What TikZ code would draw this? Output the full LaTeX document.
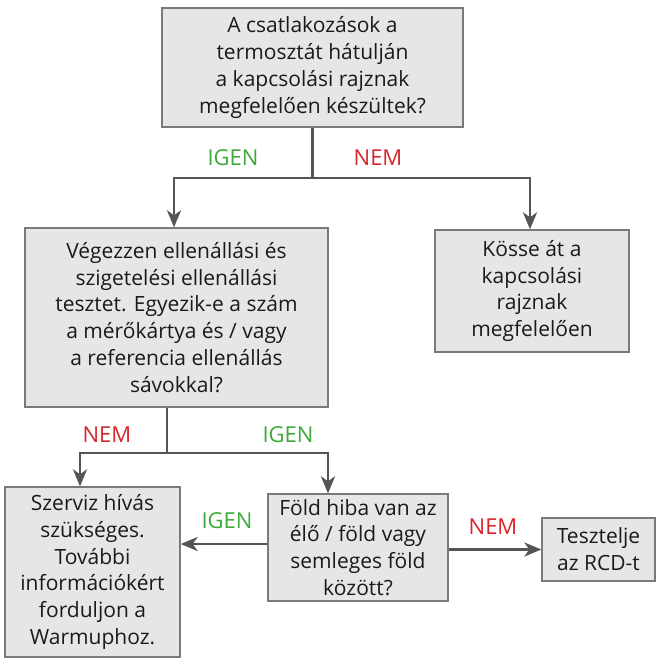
\documentclass[tikz,border=0pt]{standalone}
\usepackage{fontspec}
\setmainfont{Open Sans}
\usetikzlibrary{arrows.meta}
\definecolor{boxfill}{HTML}{E6E6E6}
\definecolor{boxline}{HTML}{7A7A7A}
\definecolor{lineclr}{HTML}{555555}
\definecolor{igenclr}{HTML}{3DAA3A}
\definecolor{nemclr}{HTML}{D7252B}
\definecolor{txt}{HTML}{1A1A1A}

\begin{document}
\begin{tikzpicture}[
    x=1pt, y=-1pt,
    box/.style={rectangle, draw=boxline, line width=1.3pt, fill=boxfill, align=center, text=txt, inner sep=0pt, font=\fontsize{21}{26.8}\selectfont},
    yes/.style={text=igenclr, font=\fontsize{22}{24}\selectfont},
    no/.style={text=nemclr, font=\fontsize{22}{24}\selectfont},
    arrow/.style={-{Stealth[length=17pt,width=14pt,inset=5pt]}, draw=lineclr, line width=2.8pt},
    plain/.style={draw=lineclr, line width=2.8pt}
]
    \useasboundingbox (0,0) rectangle (657,666);

    \node[box, minimum width=301pt, minimum height=119pt] (wiring) at (312.5,67.5) {A csatlakozások a\\termosztát hátulján\\a kapcsolási rajznak\\megfelelően készültek?};
    \node[box, minimum width=303pt, minimum height=179pt] (resist) at (176.5,317.5) {Végezzen ellenállási és\\szigetelési ellenállási\\tesztet. Egyezik-e a szám\\a mérőkártya és / vagy\\a referencia ellenállás\\sávokkal?};
    \node[box, minimum width=194pt, minimum height=122pt] (rewire) at (532,291) {Kösse át a\\kapcsolási\\rajznak\\megfelelően};
    \node[box, minimum width=175pt, minimum height=170pt] (service) at (92.5,572) {Szerviz hívás\\szükséges.\\További\\információkért\\forduljon a\\Warmuphoz.};
    \node[box, minimum width=180pt, minimum height=107pt] (earth) at (358,547.5) {Föld hiba van az\\élő / föld vagy\\semleges föld\\között?};
    \node[box, minimum width=113pt, minimum height=63pt] (rcd) at (598.5,549.5) {Tesztelje\\az RCD-t};

    % first split
    \coordinate (split1) at (312.5,178);
    \draw[plain] (wiring.south) -- (split1);
    \draw[arrow] (split1) -| ([xshift=-2.5pt]resist.north);
    \draw[arrow] (split1) -| ([xshift=-2pt]rewire.north);
    \node[yes] (yes1) at (233,158) {IGEN};
    \node[no] (no1) at (378,158) {NEM};

    % second split
    \coordinate (split2) at (167,453);
    \draw[plain] (resist.south -| split2) -- (split2);
    \draw[arrow] (split2) -| ([xshift=-12.5pt]service.north);
    \draw[arrow] (split2) -| ([xshift=-30pt]earth.north);
    \node[no] (no2) at (107,435) {NEM};
    \node[yes] (yes2) at (288,435) {IGEN};

    % earth fault
    \draw[arrow] ([yshift=3.5pt]earth.west) -- ([yshift=3.5pt]earth.west -| service.east);
    \draw[arrow] (earth.east |- rcd) -- (rcd.west);
    \node[yes] (yes3) at (227,521) {IGEN};
    \node[no] (no3) at (493,527) {NEM};
\end{tikzpicture}
\end{document}
